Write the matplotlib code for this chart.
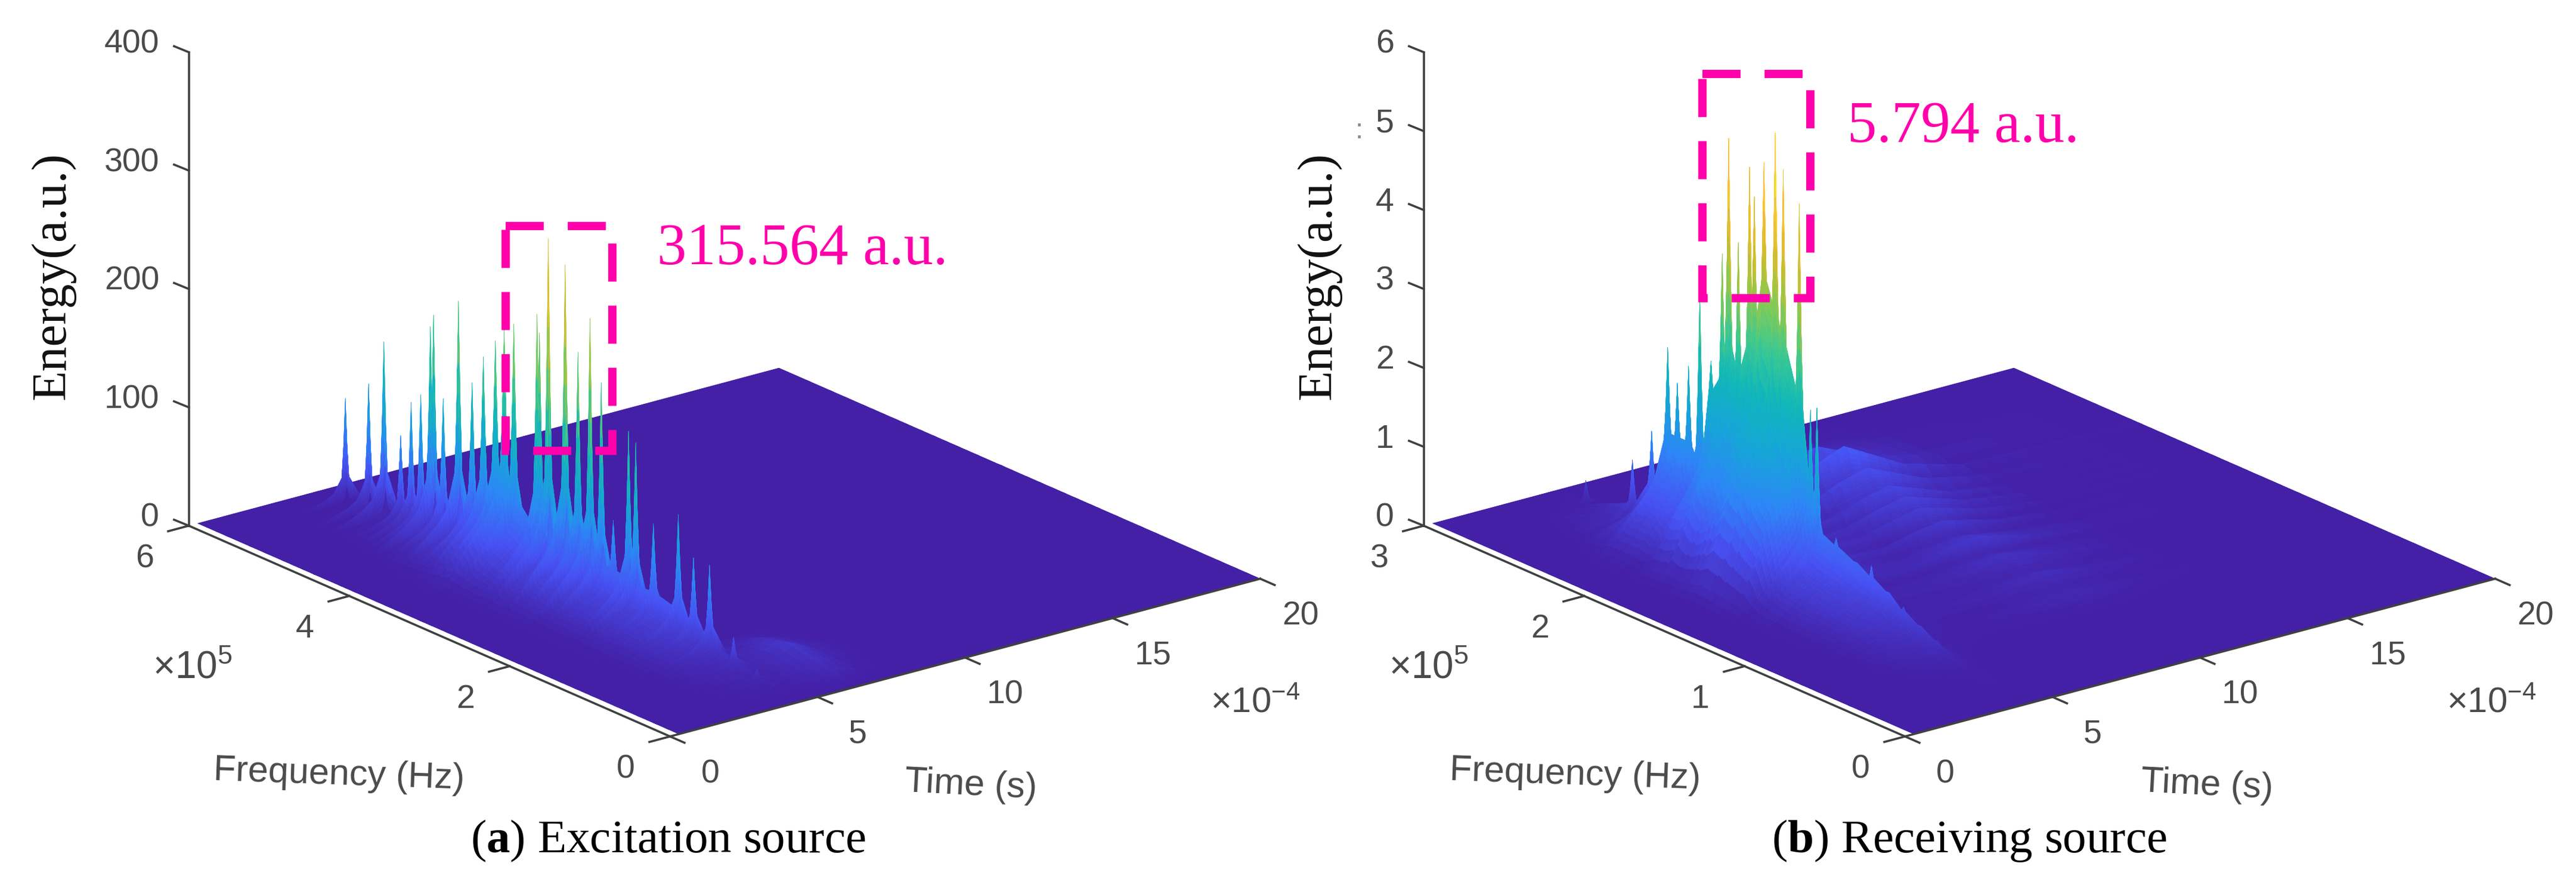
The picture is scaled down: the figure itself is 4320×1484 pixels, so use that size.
# Time-frequency energy surfaces for the excitation and receiving sources

import matplotlib
matplotlib.use('Agg')
import matplotlib.pyplot as plt
import numpy as np
from matplotlib.colors import LinearSegmentedColormap, Normalize
from matplotlib.patches import Rectangle
from mpl_toolkits.mplot3d import proj3d

plt.rcParams['mathtext.fontset'] = 'custom'
plt.rcParams['mathtext.bf'] = 'Liberation Serif:bold'
plt.rcParams['mathtext.rm'] = 'Liberation Sans'

# Values (time in 1e-4 s, frequency in 1e5 Hz)
time_grid = [0.3, 1.5, 2.2, 2.8, 3.2, 3.6, 3.9, 4.18, 4.24, 4.3, 4.36, 4.42, 4.8, 5.2, 6.0, 7.0, 8.0, 9.0, 10.0, 11.0, 12.0, 14.0, 20.0]
spike_profile = [0, 0, 0, 0.03, 0.05, 0.08, 0.12, 0.25, 0.55, 1, 0.55, 0.25, 0.05, 0, 0, 0, 0, 0, 0, 0, 0, 0, 0]

# Excitation source, one entry per spike along the ridge
exc_freq = [5.63, 5.34, 5.15, 4.94, 4.81, 4.69, 4.57, 4.53, 4.41, 4.22, 4.05, 3.91, 3.76, 3.65, 3.53,
            3.24, 3.21, 3.10, 2.89, 2.73, 2.58, 2.44, 2.29, 2.10, 2.01, 1.79, 1.48, 1.29, 1.09, 0.79, 0.50, 0.30, 0.15]
exc_energy = [90, 111, 152, 79, 111, 121, 182, 193, 126, 214, 150, 176, 194, 207, 215,
              232, 217, 300, 284, 215, 248, 198, 86, 167, 160, 98, 115, 84, 84, 32, 14, 8, 4]
exc_floor = [2, 4, 6, 10, 12, 15, 20, 20, 25, 35, 45, 60, 75, 90, 70,
             50, 50, 50, 55, 55, 50, 45, 45, 42, 40, 40, 35, 30, 22, 12, 6, 3, 1]
exc_tail = [0, 0, 0, 0, 0, 0, 0, 0, 0, 0, 0, 0, 0, 0, 0,
            0, 0, 0, 0, 0, 0, 0, 0, 0, 0, 0, 0, 4, 10, 16, 12, 8, 3]
exc_slope = [0, 0, 0.05, 0.2, 0.35, 0.45, 0.55, 0.75, 0.85, 1, 0.85, 0.7, 0.2, 0.05, 0.02, 0, 0, 0, 0, 0, 0, 0, 0]
exc_tail_profile = [0, 0, 0, 0, 0, 0, 0, 0, 0, 0, 0, 0, 0.2, 0.5, 1, 0.3, 0, 0, 0, 0, 0, 0, 0]

# Receiving source
rec_freq = [2.78, 2.49, 2.37, 2.27, 2.21, 2.14, 2.07, 2.00, 1.93, 1.89, 1.83, 1.76, 1.73, 1.67, 1.60, 1.55, 1.45,
            1.38, 1.34, 1.22, 1.10, 1.00, 0.90, 0.80, 0.70, 0.60, 0.50, 0.40]
rec_energy = [0.34, 0.86, 1.33, 2.48, 2.08, 2.36, 3.36, 2.55, 3.97, 5.47, 4.2, 5.22, 4.87, 5.36, 5.794, 5.37, 5.03,
              2.48, 2.54, 1.0, 0.8, 0.85, 0.55, 0.5, 0.35, 0.25, 0.12, 0.05]
rec_floor = [0.05, 0.3, 0.7, 1.4, 1.4, 1.4, 1.2, 2.2, 2.4, 2.9, 2.6, 3.0, 3.3, 3.9, 3.6, 3.2, 2.6,
             1.3, 1.0, 0.9, 0.8, 0.7, 0.6, 0.45, 0.35, 0.25, 0.12, 0.05]
rec_tail = [0.1, 0.4, 0.55, 0.3, 0.7, 0.35, 0.55, 0.3, 0.45, 0.25, 0.4, 0.2, 0.35, 0.15, 0.3, 0.15, 0.25,
            0.3, 0.12, 0.22, 0.1, 0.18, 0.08, 0.12, 0.05, 0, 0, 0]
rec_slope = [0, 0, 0.05, 0.2, 0.35, 0.45, 0.55, 0.75, 0.85, 1, 0.85, 0.7, 0.25, 0.1, 0.05, 0.02, 0, 0, 0, 0, 0, 0, 0]
rec_tail_profile = [0, 0, 0, 0, 0, 0, 0, 0, 0, 0, 0, 0, 0, 0.05, 0.15, 0.3, 0.5, 0.8, 1, 0.7, 0.4, 0.1, 0]

time_ticks = [0, 5, 10, 15, 20]
exc_freq_ticks = [0, 2, 4, 6]
rec_freq_ticks = [0, 1, 2, 3]
exc_energy_ticks = [0, 100, 200, 300, 400]
rec_energy_ticks = [0, 1, 2, 3, 4, 5, 6]

parula = LinearSegmentedColormap.from_list('parula', [
    (0.2630, 0.1250, 0.6500), (0.2810, 0.3228, 0.9579), (0.1786, 0.5289, 0.9682), (0.0900, 0.6500, 0.8500),
    (0.0641, 0.7150, 0.7355), (0.2161, 0.7843, 0.5923), (0.5044, 0.7993, 0.3480), (0.7595, 0.7518, 0.1829),
    (0.9632, 0.7307, 0.2000), (0.9892, 0.8136, 0.1885), (0.9769, 0.9839, 0.0805)])

W, H = 4320, 1484
SIDE = 1944  # axes side in pixels
AXIS_COLOR = '#404040'
TICK_FONT = {'family': 'Liberation Sans', 'color': '#4a4a4a', 'fontsize': 40}
PINK = '#ff00aa'


def refine(values, n):
    # extra mesh lines so a facet can be shaded up its height
    idx = np.arange(len(values))
    return np.interp(np.linspace(0, len(values) - 1, (len(values) - 1) * n + 1), idx, values)


def energy_mesh(freq, energy, floor, tail, slope, tail_profile, fmax):
    w = fmax * 0.004
    order = np.argsort(freq)
    rows = [0.0]
    base = [0.0]
    excess = [0.0]
    tails = [0.0]
    for i in order:
        rows += [freq[i] - w, freq[i], freq[i] + w]
        base += [floor[i]] * 3
        excess += [0.0, max(energy[i] - floor[i], 0.0), 0.0]
        tails += [tail[i]] * 3
    rows.append(fmax)
    base.append(0.0)
    excess.append(0.0)
    tails.append(0.0)
    Z = np.outer(base, slope) + np.outer(excess, spike_profile) + np.outer(tails, tail_profile)
    r_idx = refine(np.arange(len(rows)), 6)
    t_idx = refine(np.arange(len(time_grid)), 3)
    Z = np.array([np.interp(r_idx, np.arange(len(rows)), Z[:, j]) for j in range(Z.shape[1])]).T
    Z = np.array([np.interp(t_idx, np.arange(len(time_grid)), row) for row in Z])
    T, F = np.meshgrid(refine(time_grid, 3), refine(rows, 6))
    return T, F, Z


def draw_panel(cx, cy, T, F, Z, fmax, zmax, freq_ticks, z_ticks, vmax):
    left = (cx - 0.5135 * SIDE) / W
    bottom = (H - cy - 0.5135 * SIDE) / H
    ax = fig.add_axes([left, bottom, SIDE / W, SIDE / H], projection='3d', proj_type='ortho')
    ax.patch.set_visible(False)
    ax.set_box_aspect((1256, 1311, 845))
    ax.view_init(elev=20, azim=-128)
    ax.set_xlim(0, 20)
    ax.set_ylim(0, fmax)
    ax.set_zlim(0, zmax)
    ax.set_axis_off()
    ax.computed_zorder = False

    # flat sheet first so no seams show between the facets
    ax.plot_surface(np.array([[0.3, 20], [0.3, 20]]), np.array([[0, 0], [fmax, fmax]]), np.zeros((2, 2)),
                    color=parula(0.0), shade=False, linewidth=0, zorder=1)
    colors = parula(Normalize(0, vmax)(Z))
    ax.plot_surface(T, F, Z, facecolors=colors, rstride=1, cstride=1, shade=False, linewidth=0.3, zorder=2)

    M = ax.get_proj()

    def tick_text(t, f, z, s, ha):
        x, y, _ = proj3d.proj_transform(t, f, z, M)
        ax.text2D(x, y, s, transform=ax.transData, ha=ha, va='center', **TICK_FONT)

    kz = zmax / 400.0
    kf = fmax / 6.0
    line = dict(color=AXIS_COLOR, lw=2.6, zorder=10)
    ax.plot([0, 0], [fmax, fmax], [0, zmax], **line)
    ax.plot([0, 0], [0, fmax], [0, 0], **line)
    ax.plot([0, 20], [0, 0], [0, 0], **line)
    for z in z_ticks:
        ax.plot([0, -0.5], [fmax, fmax], [z, z + 8.4 * kz], **line)
        tick_text(-1.0, fmax, z + 13 * kz, str(z), 'right')
    for f in freq_ticks:
        ax.plot([0, -0.7], [f, f], [0, 0], **line)
        tick_text(-1.5, f, -18 * kz, str(f), 'center')
    for t in time_ticks:
        ax.plot([t, t], [0, -0.18 * kf], [0, 0], **line)
        tick_text(t, -0.5 * kf, -17 * kz, str(t), 'center')
    return ax


fig = plt.figure(figsize=(W / 100, H / 100), dpi=100)

T, F, Z = energy_mesh(exc_freq, exc_energy, exc_floor, exc_tail, exc_slope, exc_tail_profile, 6.0)
draw_panel(1215, 529, T, F, Z, 6.0, 400, exc_freq_ticks, exc_energy_ticks, 315.564)

T, F, Z = energy_mesh(rec_freq, rec_energy, rec_floor, rec_tail, rec_slope, rec_tail_profile, 3.0)
draw_panel(3286, 529, T, F, Z, 3.0, 6, rec_freq_ticks, rec_energy_ticks, 5.794)

# Annotations on top, in picture pixels
over = fig.add_axes([0, 0, 1, 1])
over.set_xlim(0, W)
over.set_ylim(H, 0)
over.axis('off')
over.patch.set_visible(False)

dash = dict(fill=False, edgecolor=PINK, lw=10, linestyle=(0, (4.6, 2.9)), capstyle='butt', joinstyle='miter')
over.add_patch(Rectangle((848, 379), 179, 377, **dash))
over.add_patch(Rectangle((2855, 124), 181, 376, **dash))

serif = dict(family='Liberation Serif')
over.text(1102, 419, '315.564 a.u.', color=PINK, fontsize=71, va='center', **serif)
over.text(3098, 214, '5.794 a.u.', color=PINK, fontsize=71, va='center', **serif)
for x in [89, 2212]:
    over.text(x, 462, 'Energy(a.u.)', fontsize=60, rotation=90, ha='center', va='center', color='#111111', **serif)
over.text(1120, 1410, r'($\mathbf{a}$) Excitation source', fontsize=57, ha='center', va='center', **serif)
over.text(3302, 1410, r'($\mathbf{b}$) Receiving source', fontsize=57, ha='center', va='center', **serif)
over.text(2279, 220, ':', fontsize=34, color='#8a8a8a', ha='center', va='center', family='Liberation Sans')

label = dict(family='Liberation Sans', color='#4a4a4a', ha='center', va='center')
for dx in [0, 2073]:
    over.text(568 + dx, 1300, 'Frequency (Hz)', fontsize=44, rotation=-2, **label)
    over.text(1628 + dx, 1317, 'Time (s)', fontsize=44, rotation=-3, **label)
    over.text(323 + dx, 1120, r'$\times\mathrm{10^{5}}$', fontsize=46, **label)
    over.text(2105 + dx, 1180, r'$\times\mathrm{10^{-4}}$', fontsize=43, **label)

fig.savefig('out.png', dpi=100)
